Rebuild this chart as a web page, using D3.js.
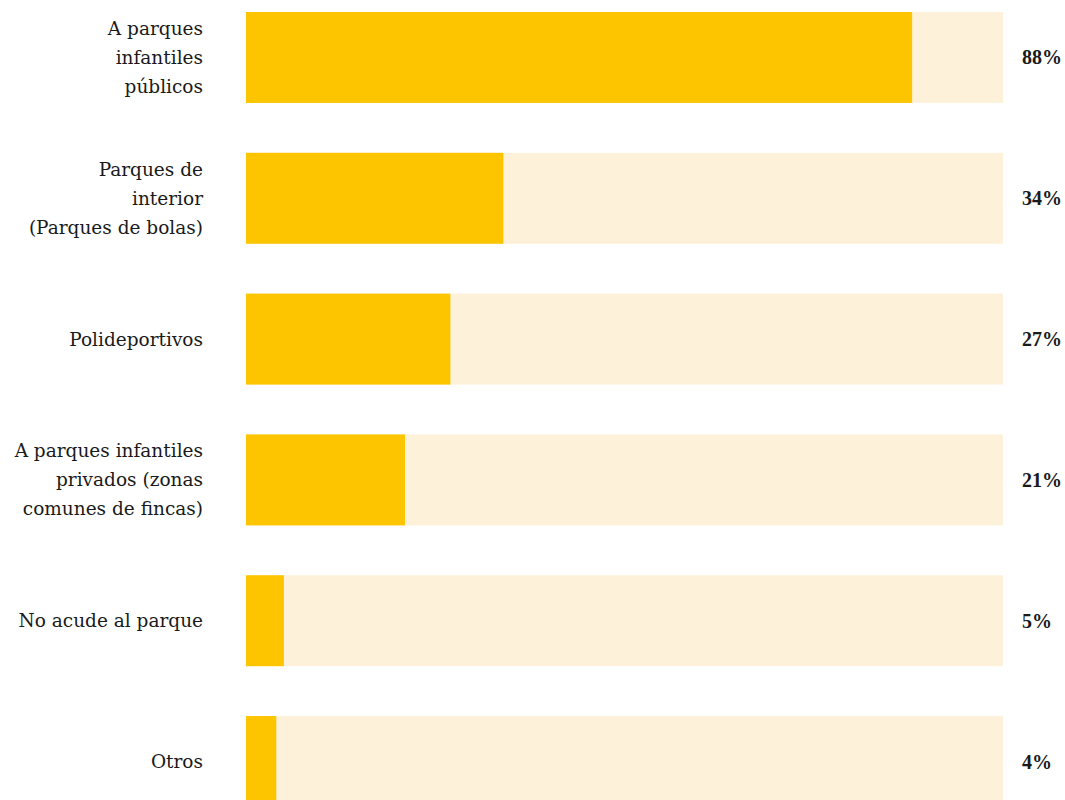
<!DOCTYPE html>
<html>
<head>
<meta charset="utf-8">
<script src="https://cdn.jsdelivr.net/npm/d3@7"></script>
<style>
  body { margin: 0; background: #fff; }
  svg { display: block; }
</style>
</head>
<body>
<div id="chart"></div>
<script>
// Data
var categories = [
    "A parques infantiles públicos",
    "Parques de interior (Parques de bolas)",
    "Polideportivos",
    "A parques infantiles privados (zonas comunes de fincas)",
    "No acude al parque",
    "Otros"
];
// how each category label breaks into lines
var labelLines = [
    ["A parques", "infantiles", "públicos"],
    ["Parques de", "interior", "(Parques de bolas)"],
    ["Polideportivos"],
    ["A parques infantiles", "privados (zonas", "comunes de fincas)"],
    ["No acude al parque"],
    ["Otros"]
];
var values = [88, 34, 27, 21, 5, 4];

var width = 1065,
    height = 800,
    barLeft = 246,
    barRight = 1003,
    barColor = "#fcc500",
    trackColor = "#fdf2d9",
    textColor = "#1a1a1a";

var rows = categories.map(function (c, i) {
    return { name: c, lines: labelLines[i], value: values[i] };
});

var svg = d3.select("#chart")
    .append("svg")
    .attr("width", width)
    .attr("height", height);

var x = d3.scaleLinear()
    .domain([0, 100])
    .range([barLeft, barRight]);

var y = d3.scaleBand()
    .domain(categories)
    .range([12, 807])
    .paddingInner(0.354)
    .paddingOuter(0);

var row = svg.selectAll(".row")
    .data(rows)
    .enter()
    .append("g")
    .attr("class", "row");

// background track (full 100%)
row.append("rect")
    .attr("x", x(0))
    .attr("y", function (d) { return y(d.name); })
    .attr("width", x(100) - x(0))
    .attr("height", y.bandwidth())
    .attr("fill", trackColor);

// value bar
row.append("rect")
    .attr("x", x(0))
    .attr("y", function (d) { return y(d.name); })
    .attr("width", function (d) { return x(d.value) - x(0); })
    .attr("height", y.bandwidth())
    .attr("fill", barColor);

// category labels, right aligned left of the bars
var lineH = 29;
row.append("text")
    .attr("x", barLeft - 43)
    .attr("text-anchor", "end")
    .attr("font-family", "'DejaVu Serif', 'Liberation Serif', serif")
    .attr("font-size", "18.5px")
    .attr("fill", textColor)
    .each(function (d) {
        var t = d3.select(this);
        var mid = y(d.name) + y.bandwidth() / 2;
        var top = mid - (d.lines.length - 1) * lineH / 2;
        d.lines.forEach(function (l, i) {
            t.append("tspan")
                .attr("x", barLeft - 43)
                .attr("y", top + i * lineH)
                .attr("dy", "0.35em")
                .text(l);
        });
    });

// value labels on the right
row.append("text")
    .attr("x", barRight + 19)
    .attr("y", function (d) { return y(d.name) + y.bandwidth() / 2; })
    .attr("dy", "0.35em")
    .attr("font-family", "'Liberation Serif', 'DejaVu Serif', serif")
    .attr("font-weight", "bold")
    .attr("font-size", "20px")
    .attr("fill", textColor)
    .text(function (d) { return d.value + "%"; });
</script>
</body>
</html>
